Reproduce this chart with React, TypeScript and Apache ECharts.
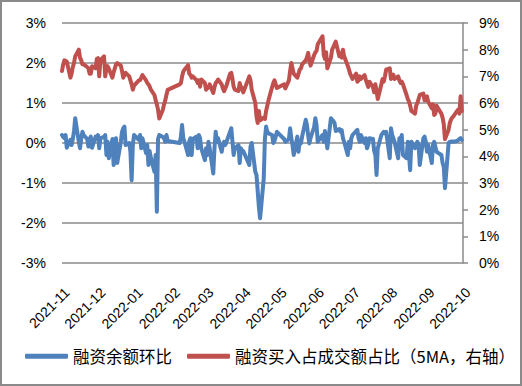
import React, { useEffect, useRef } from 'react';
import * as echarts from 'echarts';

// Calendar range of the date axis
const axisStart = '2021-11-01';
const axisEnd = '2022-10-01';

// Trading months and trading days (day of month) in each
const months = ['2021-11', '2021-12', '2022-01', '2022-02', '2022-03', '2022-04', '2022-05', '2022-06', '2022-07', '2022-08', '2022-09'];
const tradingDays: number[][] = [
  [1, 2, 3, 4, 5, 8, 9, 10, 11, 12, 15, 16, 17, 18, 19, 22, 23, 24, 25, 26, 29, 30],
  [1, 2, 3, 6, 7, 8, 9, 10, 13, 14, 15, 16, 17, 20, 21, 22, 23, 24, 27, 28, 29, 30, 31],
  [4, 5, 6, 7, 10, 11, 12, 13, 14, 17, 18, 19, 20, 21, 24, 25, 26, 27, 28],
  [7, 8, 9, 10, 11, 14, 15, 16, 17, 18, 21, 22, 23, 24, 25, 28],
  [1, 2, 3, 4, 7, 8, 9, 10, 11, 14, 15, 16, 17, 18, 21, 22, 23, 24, 25, 28, 29, 30, 31],
  [1, 6, 7, 8, 11, 12, 13, 14, 15, 18, 19, 20, 21, 22, 25, 26, 27, 28, 29],
  [5, 6, 9, 10, 11, 12, 13, 16, 17, 18, 19, 20, 23, 24, 25, 26, 27, 30, 31],
  [1, 2, 6, 7, 8, 9, 10, 13, 14, 15, 16, 17, 20, 21, 22, 23, 24, 27, 28, 29, 30],
  [1, 4, 5, 6, 7, 8, 11, 12, 13, 14, 15, 18, 19, 20, 21, 22, 25, 26, 27, 28, 29],
  [1, 2, 3, 4, 5, 8, 9, 10, 11, 12, 15, 16, 17, 18, 19, 22, 23, 24, 25, 26, 29, 30, 31],
  [1, 2, 5, 6, 7, 8, 9, 13, 14, 15, 16, 19, 20, 21, 22, 23, 26, 27, 28, 29, 30],
];

// 融资余额环比 (%, left axis), one list per month
const balanceChange: number[][] = [
  [0.2, 0.15, 0.12, 0.2, -0.12, 0.08, -0.05, 0.1, 0.3, 0.62, 0.03, -0.13, 0.1, 0.28, 0.2, 0.1, -0.09, 0.1, 0.16, -0.12, 0.16, 0.12],
  [0.2, -0.13, 0.12, 0.15, 0.2, -0.3, 0.03, -0.38, 0.1, -0.55, 0.03, 0.12, -0.5, 0.03, 0.28, 0.37, 0.41, -0.05, 0.0, -0.22, -0.93, -0.05, 0.2],
  [0.08, 0.2, -0.13, 0.12, -0.25, -0.05, -0.55, -0.2, -0.37, -0.72, -0.3, -1.72, 0.1, 0.2, 0.15, 0.12, 0.03, 0.2, 0.05],
  [0.0, 0.15, 0.45, 0.12, 0.03, -0.3, 0.05, 0.12, -0.3, 0.1, 0.16, -0.13, 0.2, 0.12, -0.13, -0.43],
  [-0.13, -0.3, 0.03, -0.13, -0.76, -0.13, 0.28, 0.03, 0.12, -0.22, -0.05, 0.03, -0.05, 0.03, 0.28, 0.37, 0.03, -0.3, -0.13, -0.05, -0.5, -0.13, -0.22],
  [-0.2, -0.55, -0.09, 0.0, -0.72, -0.8, -1.2, -1.6, -1.88, -0.9, 0.1, 0.41, 0.28, 0.24, 0.2, 0.0, 0.05, 0.16, 0.28],
  [0.1, 0.03, 0.1, 0.37, 0.12, -0.05, -0.3, 0.16, -0.22, 0.05, -0.01, 0.16, 0.58, 0.45, 0.2, -0.01, 0.12, 0.4, 0.62],
  [0.45, 0.03, 0.2, 0.03, 0.3, 0.1, -0.13, 0.62, 0.58, 0.55, 0.5, 0.3, 0.35, 0.28, 0.32, 0.12, 0.03, -0.3, 0.03, -0.13, 0.12],
  [0.2, 0.3, 0.33, 0.12, 0.03, 0.2, 0.0, 0.12, -0.13, -0.05, 0.12, 0.1, -0.2, -0.3, -0.8, -0.13, 0.2, 0.24, 0.28, 0.24, 0.28],
  [-0.38, 0.37, 0.2, 0.12, 0.03, -0.38, 0.12, 0.03, 0.2, -0.3, -0.38, 0.03, -0.3, -0.68, 0.03, -0.13, -0.05, 0.03, -0.05, -0.55, 0.12, 0.16, 0.03],
  [-0.22, -0.05, -0.5, -0.05, 0.03, -0.1, -0.22, -0.3, -0.5, -0.6, -1.13, 0.0, 0.03, 0.03, 0.04, 0.03, 0.05, 0.07, 0.1, 0.12, 0.08],
];

// 融资买入占成交额占比 5MA (%, right axis), one list per month
const financingBuyShare: number[][] = [
  [7.2, 7.45, 7.6, 7.58, 7.55, 6.95, 7.1, 7.35, 7.5, 7.75, 8.0, 7.7, 7.6, 7.45, 7.45, 7.35, 7.3, 7.1, 7.1, 7.38, 7.3, 7.65],
  [7.68, 7.0, 7.6, 7.75, 7.0, 7.3, 7.38, 7.28, 6.95, 7.15, 7.3, 7.45, 7.5, 7.4, 7.2, 6.95, 7.05, 7.13, 7.0, 6.85, 6.7, 6.5, 6.65],
  [6.85, 6.86, 6.95, 7.05, 6.85, 6.75, 6.7, 6.62, 6.5, 6.3, 6.1, 5.95, 5.75, 5.42, 5.75, 5.95, 6.1, 6.3, 6.49],
  [6.7, 6.74, 6.99, 7.17, 7.25, 7.42, 7.1, 7.05, 6.95, 7.0, 6.86, 6.75, 6.85, 6.61, 6.88, 6.75],
  [6.5, 6.55, 6.58, 6.7, 6.38, 6.6, 6.75, 6.8, 6.88, 6.7, 6.55, 6.44, 6.55, 6.65, 7.1, 7.13, 6.9, 6.6, 6.5, 6.45, 6.75, 6.6, 6.56],
  [6.4, 7.0, 6.85, 6.5, 6.0, 5.5, 5.25, 5.7, 5.35, 5.45, 5.4, 5.7, 5.9, 6.1, 6.6, 6.75, 6.85, 6.7, 6.56],
  [6.7, 6.55, 6.85, 7.2, 7.5, 7.3, 7.1, 6.95, 7.1, 7.25, 7.3, 7.45, 7.6, 7.7, 7.88, 7.6, 7.4, 7.8, 7.9],
  [7.95, 8.2, 8.5, 7.8, 7.65, 7.9, 7.3, 7.7, 8.0, 8.1, 8.2, 8.3, 7.75, 7.85, 7.7, 8.0, 7.75, 7.4, 7.25, 7.1, 7.0],
  [6.9, 7.1, 6.8, 6.85, 7.0, 6.9, 7.05, 6.88, 6.75, 6.6, 6.8, 6.6, 6.4, 6.7, 6.45, 6.15, 6.7, 6.9, 6.8, 7.0, 7.25],
  [7.3, 6.9, 7.0, 7.06, 6.9, 7.0, 6.85, 6.75, 6.8, 6.7, 6.3, 6.15, 6.05, 5.9, 5.7, 5.6, 5.9, 6.0, 6.15, 6.3, 6.35, 6.1, 6.2],
  [6.25, 6.05, 5.8, 5.95, 5.55, 5.6, 5.9, 5.6, 5.45, 5.2, 4.65, 5.0, 5.25, 5.38, 5.45, 5.5, 5.7, 5.75, 5.6, 6.25, 5.7],
];

const seriesNames = ['融资余额环比', '融资买入占成交额占比（5MA，右轴）'];
const leftAxisRange = [-3, 3];
const rightAxisRange = [0, 9];

const pad = (n: number) => (n < 10 ? '0' + n : '' + n);

function calendarDays(start: string, end: string): string[] {
  const out: string[] = [];
  const d = new Date(start + 'T00:00:00Z');
  const e = new Date(end + 'T00:00:00Z');
  while (d.getTime() <= e.getTime()) {
    out.push(`${d.getUTCFullYear()}-${pad(d.getUTCMonth() + 1)}-${pad(d.getUTCDate())}`);
    d.setUTCDate(d.getUTCDate() + 1);
  }
  return out;
}

function alignToCalendar(cats: string[], values: number[][]): (number | null)[] {
  const idx: Record<string, number> = {};
  cats.forEach((c, i) => (idx[c] = i));
  const arr: (number | null)[] = cats.map(() => null);
  months.forEach((m, mi) => {
    tradingDays[mi].forEach((day, di) => {
      const key = `${m}-${pad(day)}`;
      if (idx[key] !== undefined) arr[idx[key]] = values[mi][di];
    });
  });
  return arr;
}

export default function App() {
  const ref = useRef<HTMLDivElement>(null);

  useEffect(() => {
    if (!ref.current) return;
    const chart = echarts.init(ref.current, undefined, { renderer: 'svg' });
    const cats = calendarDays(axisStart, axisEnd);
    const blue = alignToCalendar(cats, balanceChange);
    const red = alignToCalendar(cats, financingBuyShare);
    const gridColor = '#8a8a8a';
    const labelFont = 'Liberation Sans, Arial, sans-serif';

    chart.setOption({
      animation: false,
      backgroundColor: '#ffffff',
      grid: { left: 62, right: 59, top: 23, bottom: 123, containLabel: false },
      legend: {
        left: 20,
        top: 343,
        itemWidth: 43,
        itemHeight: 5,
        itemGap: 15,
        icon: 'roundRect',
        textStyle: { fontSize: 16.5, color: '#000', fontFamily: 'Noto Sans CJK SC' },
        data: seriesNames,
      },
      xAxis: {
        type: 'category',
        data: cats,
        boundaryGap: false,
        axisLine: { show: false },
        axisTick: { show: false },
        splitLine: { show: false },
        axisLabel: {
          interval: (_i: number, v: string) => v.slice(8) === '01',
          formatter: (v: string) => v.slice(0, 7),
          rotate: 45,
          margin: 22,
          align: 'right',
          verticalAlign: 'top',
          fontSize: 14,
          color: '#000',
          fontFamily: labelFont,
        },
      },
      yAxis: [
        {
          type: 'value',
          min: leftAxisRange[0],
          max: leftAxisRange[1],
          interval: 1,
          axisLine: { show: false },
          axisTick: { show: false },
          splitLine: { show: true, lineStyle: { color: gridColor, width: 1.5 } },
          axisLabel: { formatter: '{value}%', fontSize: 14, color: '#000', margin: 16, fontFamily: labelFont },
        },
        {
          type: 'value',
          position: 'right',
          min: rightAxisRange[0],
          max: rightAxisRange[1],
          interval: 1,
          axisLine: { show: true, lineStyle: { color: gridColor, width: 1.5 } },
          axisTick: { show: true, length: 5, inside: false, lineStyle: { color: gridColor, width: 1.5 } },
          splitLine: { show: false },
          axisLabel: { formatter: '{value}%', fontSize: 14, color: '#000', margin: 16, fontFamily: labelFont },
        },
      ],
      series: [
        {
          name: seriesNames[0],
          type: 'line',
          yAxisIndex: 0,
          data: blue,
          connectNulls: true,
          showSymbol: false,
          symbol: 'none',
          itemStyle: { color: '#4F81BD' },
          lineStyle: { color: '#4F81BD', width: 4, cap: 'round', join: 'round' },
        },
        {
          name: seriesNames[1],
          type: 'line',
          yAxisIndex: 1,
          data: red,
          connectNulls: true,
          showSymbol: false,
          symbol: 'none',
          itemStyle: { color: '#C0504D' },
          lineStyle: { color: '#C0504D', width: 4, cap: 'round', join: 'round' },
        },
      ],
    });
    return () => chart.dispose();
  }, []);

  return (
    <div style={{ position: 'absolute', left: 0, top: 0, width: 522, height: 386, background: '#fff' }}>
      <div ref={ref} style={{ position: 'absolute', left: 0, top: 0, width: 522, height: 386 }} />
      <div
        style={{
          position: 'absolute',
          left: 0,
          top: 0,
          width: 522,
          height: 386,
          boxSizing: 'border-box',
          border: '2px solid #8a8a8a',
          pointerEvents: 'none',
        }}
      />
    </div>
  );
}
